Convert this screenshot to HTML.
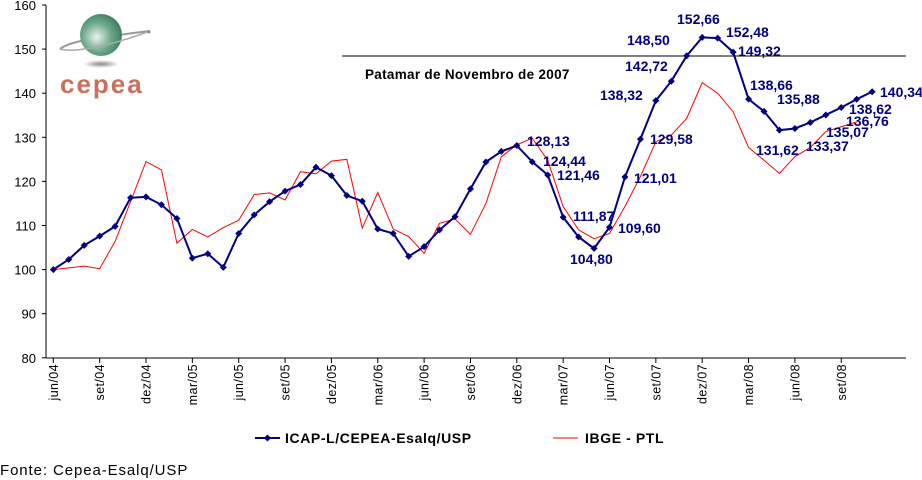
<!DOCTYPE html>
<html><head><meta charset="utf-8"><style>
body{margin:0;background:#fff;width:922px;height:480px;overflow:hidden}
svg{display:block;font-family:"Liberation Sans",Arial,sans-serif}
</style></head><body>
<svg id="c" width="922" height="480" viewBox="0 0 922 480" xmlns="http://www.w3.org/2000/svg">
<defs>
<radialGradient id="g" cx="0.4" cy="0.55" r="0.7"><stop offset="0" stop-color="#e8f3ec"/><stop offset="0.5" stop-color="#6aa888"/><stop offset="1" stop-color="#2f6e50"/></radialGradient>
<radialGradient id="sh" cx="0.5" cy="0.5" r="0.5"><stop offset="0" stop-color="#888"/><stop offset="1" stop-color="#fff"/></radialGradient>
</defs>
<g id="logo">
<ellipse cx="101" cy="64" rx="18" ry="4" fill="url(#sh)"/>
<path d="M60,49 C70,40 110,36 150,31" stroke="#999" stroke-width="2" fill="none"/>
<circle cx="101" cy="35" r="21" fill="url(#g)"/>
<path d="M60,49 C75,53 110,46 150,31" stroke="#aaa" stroke-width="1.5" fill="none"/>
<circle cx="149" cy="32" r="1.5" fill="#888"/>
<text x="60" y="93" font-size="26" font-weight="bold" fill="#c8705c" letter-spacing="2">cepea</text>
</g>
<g id="plot"></g>
</svg>
<script>
var ns="http://www.w3.org/2000/svg",g=document.getElementById("plot");
function el(t,a,tx){var e=document.createElementNS(ns,t);for(var k in a)e.setAttribute(k,a[k]);if(tx!=null)e.textContent=tx;g.appendChild(e);return e;}
function Y(v){return 5+(160-v)*4.41;}
function X(i){return 53.3+15.45*i;}
el("line",{x1:46,y1:5,x2:46,y2:358,stroke:"#000","stroke-width":1});
el("line",{x1:46,y1:358,x2:906,y2:358,stroke:"#000","stroke-width":1});
for(var v=80;v<=160;v+=10){var y=Y(v);el("line",{x1:42,y1:y,x2:46,y2:y,stroke:"#000"});
el("text",{x:36,y:y+5,"font-size":13,"text-anchor":"end",fill:"#000"},v);}
var ml=["jun","set","dez","mar"],yr=4;
for(var k=0;k<18;k++){var i=k*3,x=X(i);el("line",{x1:x,y1:358,x2:x,y2:363,stroke:"#000"});
var m=ml[k%4];if(m=="mar")yr++;var lab=m+"/0"+yr;
el("text",{x:0,y:0,"font-size":12.5,"text-anchor":"end","letter-spacing":0.4,transform:"translate("+(x+4.5)+",364) rotate(-90)"},lab);}
var blue=[100,102.3,105.5,107.6,109.8,116.3,116.5,114.7,111.6,102.6,103.6,100.5,108.2,112.4,115.4,117.8,119.3,123.2,121.3,116.8,115.5,109.2,108.2,103.0,105.2,109.0,112.0,118.3,124.4,126.8,128.13,124.44,121.46,111.87,107.4,104.80,109.60,121.01,129.58,138.32,142.72,148.50,152.66,152.48,149.32,138.66,135.88,131.62,132.0,133.37,135.07,136.76,138.62,140.34];
var red=[100,100.4,100.8,100.2,106.4,115.4,124.5,122.6,106,109.1,107.4,109.5,111.2,117,117.4,115.8,122.2,121.7,124.6,125,109.4,117.5,109.2,107.5,103.7,110.5,111.5,108,115,125.6,128.3,129.8,124.8,114.3,109,107,108.2,114.3,121.1,129,130.5,134.3,142.4,140,135.8,127.7,124.8,121.8,125.6,127.7,131.3,132.4,133.5];
el("line",{x1:342,y1:56,x2:906,y2:56,stroke:"#000"});
el("text",{x:365,y:79,"font-size":13.5,"font-weight":"bold",fill:"#000","letter-spacing":0.3},"Patamar de Novembro de 2007");
el("polyline",{points:red.map(function(v,i){return X(i)+","+Y(v)}).join(" "),fill:"none",stroke:"#ff0000","stroke-width":1});
el("polyline",{points:blue.map(function(v,i){return X(i)+","+Y(v)}).join(" "),fill:"none",stroke:"#000080","stroke-width":2});
function dia(x,y){el("polygon",{points:(x-3.5)+","+y+" "+x+","+(y-3.5)+" "+(x+3.5)+","+y+" "+x+","+(y+3.5),fill:"#000080"});}
blue.forEach(function(v,i){dia(X(i),Y(v));});
var L=[["152,66",677,19],["152,48",726,32],["148,50",627,40],["149,32",738,51],["142,72",625,66],["138,32",600,95],["138,66",750,85],["135,88",777,99],["140,34",880,92],["138,62",849,109],["136,76",846,121],["135,07",826,132],["133,37",806,146],["131,62",756,150],["129,58",650,139],["128,13",527,141],["124,44",543,161],["121,46",557,175],["121,01",634,178],["111,87",573,216],["109,60",618,228],["104,80",570,259]];
L.forEach(function(a){el("text",{x:a[1],y:a[2]+5,"font-size":14,"font-weight":"bold",fill:"#000080"},a[0]);});
el("line",{x1:255,y1:438,x2:280,y2:438,stroke:"#000080","stroke-width":2});dia(267.5,438);
el("text",{x:285,y:443,"font-size":14,"font-weight":"bold",fill:"#000","letter-spacing":0.6},"ICAP-L/CEPEA-Esalq/USP");
el("line",{x1:553,y1:438,x2:578,y2:438,stroke:"#ff0000","stroke-width":1});
el("text",{x:585,y:443,"font-size":14,"font-weight":"bold",fill:"#000","letter-spacing":0.6},"IBGE - PTL");
el("text",{x:0,y:475,"font-size":15,fill:"#000","letter-spacing":0.9},"Fonte: Cepea-Esalq/USP");
</script>
</body></html>
